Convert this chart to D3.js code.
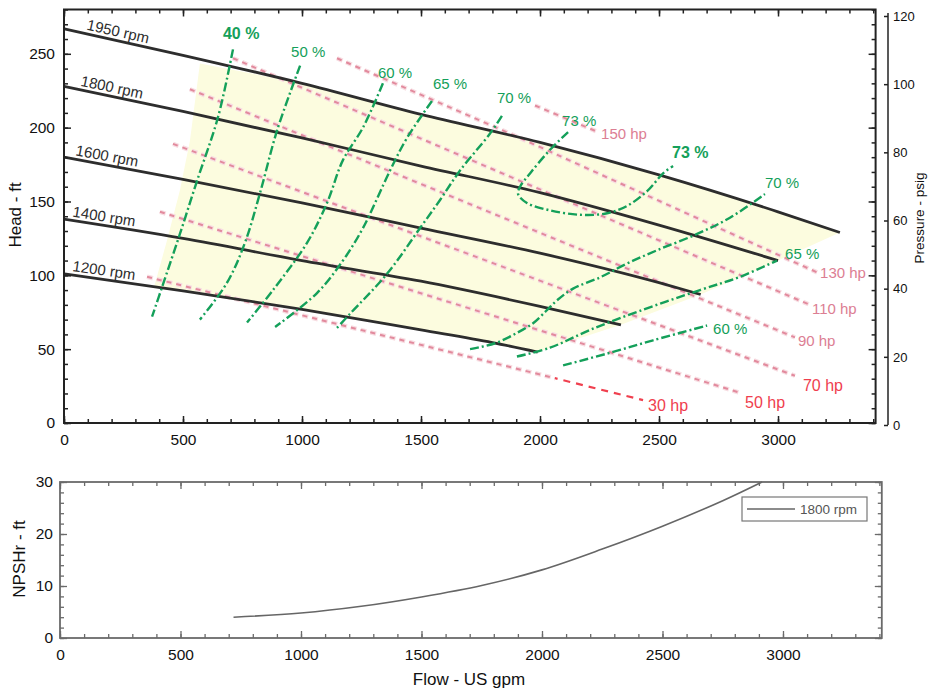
<!DOCTYPE html>
<html><head><meta charset="utf-8">
<script src="https://cdn.jsdelivr.net/npm/d3@7"></script>
<style>
body{margin:0;background:#fff;}
svg text{font-family:"Liberation Sans",Arial,Helvetica,sans-serif;}
</style></head><body>
<svg id="c" width="929" height="694"></svg>
<script>
// ---------------- DATA ----------------
const speedLabels = ["1950 rpm","1800 rpm","1600 rpm","1400 rpm","1200 rpm"];
const flow1950 = [0,500,1000,1500,2000,2500,3000,3260];
const head1950 = [267,249,230,209,190,168,143,129];
const flow1800 = [0,500,1000,1500,2000,2500,3000];
const head1800 = [228,211,193,174,156,134,110];
const flow1600 = [0,500,1000,1500,2000,2500,2675];
const head1600 = [180,165,149,132,115,95,87];
const flow1400 = [0,500,1000,1500,2000,2340];
const head1400 = [138,125,110,96,79,66.5];
const flow1200 = [0,500,1000,1500,1800,1990];
const head1200 = [101,89.5,77,63,54.5,48];

// efficiency iso-lines [flow, head]
const effLabels = ["40 %","50 %","60 %","65 %","70 %","73 %","73 %","70 %","65 %","60 %"];
const eff40 = [[710,253],[647,207],[559,164],[487,128],[412,92],[370,72]];
const eff50 = [[992,242],[895,198],[824,156],[760,122],[685,95],[571,70]];
const eff60 = [[1340,230],[1256,200],[1172,178],[1105,149],[1021,122],[878,90],[769,68]];
const eff65 = [[1546,218],[1441,193],[1370,171],[1256,132],[1172,110],[1063,88],[887,65]];
const eff70a = [[1840,208],[1790,196],[1664,171],[1580,151],[1496,132],[1357,101],[1202,74],[1139,63]];
const eff73 = [[2118,197],[2042,185],[1958,169],[1916,160],[1908,155],[1945,149],[2042,144],[2168,141],[2282,142],[2366,147],[2450,157],[2517,169],[2559,174]];
const eff70b = [[1706,50],[1811,54],[1903,61],[1971,67.6],[2029,76.4],[2071,83],[2139,91],[2252,98.6],[2366,108],[2492,117],[2660,128],[2798,139],[2945,155]];
const eff65b = [[1903,45],[2042,51],[2210,63],[2420,76],[2672,90],[2840,99],[2996,110]];
const eff60b = [[2097,39],[2282,47],[2475,56],[2702,66]];

// constant power lines [flow, head]
const hpLabels = ["150 hp","130 hp","110 hp","90 hp","70 hp","50 hp","30 hp"];
const hp150 = [[1979,215],[2244,197]];
const hp130 = [[1147,247],[1916,193],[3164,102]];
const hp110 = [[710,247],[3134,80]];
const hp90 = [[529,226],[3071,58]];
const hp70 = [[458,189],[3071,32]];
const hp50 = [[403,143],[2849,20]];
const hp30 = [[349,99],[2433,15.5]];
const hp30BrightFrom = 2063;

// preferred operating region outline [flow, head]
const regionFlows = [571,1000,1500,2000,2500,3000,3260,3000,2675,2340,1990,1500,1000,500,378,433,487,529,571];
const regionHeads = [243.5,230,209,190,168,143,129,110,87,66.5,48,63,77,89.5,92,123.7,157.6,191,243.5];

// NPSHr at 1800 rpm
const npshFlow = [720,1000,1250,1500,1750,2000,2250,2500,2750,2913];
const npshValue = [4.0,4.8,6.1,7.9,10.1,13.1,17.1,21.5,26.4,30];

// tick values
const flowTicks = [0,500,1000,1500,2000,2500,3000];
const headTicks = [0,50,100,150,200,250];
const psiTicks = [0,20,40,60,80,100,120];
const npshTicks = [0,10,20,30];

// ---------------- DRAW ----------------
const svg = d3.select("#c");
const FONT = '"Liberation Sans",Arial,Helvetica,sans-serif';
const xT = d3.scaleLinear().domain([0,3410]).range([64,875.6]);
const yT = d3.scaleLinear().domain([0,280]).range([423,9.5]);
const yP = d3.scaleLinear().domain([0,120]).range([425,16]);
const xB = d3.scaleLinear().domain([0,3410]).range([60,881.8]);
const yB = d3.scaleLinear().domain([0,30]).range([638,482]);

const zip = (a,b)=>a.map((v,i)=>[v,b[i]]);
const smooth = d3.line().x(d=>xT(d[0])).y(d=>yT(d[1])).curve(d3.curveMonotoneX);
const cr = d3.line().x(d=>xT(d[0])).y(d=>yT(d[1])).curve(d3.curveCatmullRom.alpha(0.5));
const straight = d3.line().x(d=>xT(d[0])).y(d=>yT(d[1]));

// yellow region
svg.append("path")
  .attr("d", straight(zip(regionFlows,regionHeads)))
  .attr("fill","#fcfcdf").attr("stroke","none");

// clip paths for the 30 hp line
const defs = svg.append("defs");
defs.append("clipPath").attr("id","head30").append("rect")
  .attr("x",0).attr("y",0).attr("width",xT(hp30BrightFrom)).attr("height",450);
defs.append("clipPath").attr("id","tail30").append("rect")
  .attr("x",xT(hp30BrightFrom)).attr("y",0).attr("width",400).attr("height",450);

// power lines
const hpSets = [hp150,hp130,hp110,hp90,hp70,hp50,hp30];
const hpLabelOff = [[3,7],[3,6],[2,9],[3,9],[8,15],[3,15],[5,11]];
const hpColors = ["#dc7e93","#dc7e93","#dc7e93","#dc7e93","#ef3e4e","#ef3e4e","#ef3e4e"];
const hpSizes = [15,15,15,15,16,16,16];
const gHp = svg.append("g");
hpSets.forEach((s,i)=>{
  const clip = i===6 ? "url(#head30)" : null;
  gHp.append("path").attr("d",straight(s)).attr("fill","none").attr("clip-path",clip)
    .attr("stroke","#f7dde2").attr("stroke-width",4.5).attr("stroke-dasharray","6,4");
  gHp.append("path").attr("d",straight(s)).attr("fill","none").attr("clip-path",clip)
    .attr("stroke","#e28a9d").attr("stroke-width",2).attr("stroke-dasharray","5,5");
  const e = s[s.length-1];
  gHp.append("text").attr("x",xT(e[0])+hpLabelOff[i][0]).attr("y",yT(e[1])+hpLabelOff[i][1])
    .attr("font-size",hpSizes[i]).attr("fill",hpColors[i]).text(hpLabels[i]);
});
// bright red tail of 30 hp line
svg.append("path").attr("d",straight(hp30)).attr("fill","none").attr("clip-path","url(#tail30)")
  .attr("stroke","#f0404f").attr("stroke-width",2.2).attr("stroke-dasharray","7,6");

// head curves
const heads = [zip(flow1950,head1950),zip(flow1800,head1800),zip(flow1600,head1600),zip(flow1400,head1400),zip(flow1200,head1200)];
const rpmDx = [22,16,11,8,8];
heads.forEach((c,i)=>{
  svg.append("path").attr("d",smooth(c)).attr("fill","none")
    .attr("stroke","#2d2d2d").attr("stroke-width",2.8);
  const x0 = xT(c[0][0]), y0 = yT(c[0][1]);
  const ang = Math.atan2(yT(c[1][1])-y0, xT(c[1][0])-x0)*180/Math.PI;
  const px = x0 + rpmDx[i];
  const py = y0 + (px-x0)*Math.tan(ang*Math.PI/180) - 4;
  svg.append("text").attr("transform",`translate(${px},${py}) rotate(${ang})`)
    .attr("font-size",15).attr("fill","#2d2d2d").text(speedLabels[i]);
});

// efficiency lines
const effSets = [eff40,eff50,eff60,eff65,eff70a,eff73,eff73,eff70b,eff65b,eff60b];
const effAnchorEnd = [false,false,false,false,false,false,true,true,true,true];
const effOff = [[-10,-10],[-9,-9],[-5,-5],[1,-12],[-5,-13],[-6,-6],[-1,-8],[0,-6],[8,-2],[6,8]];
const effBold = [true,false,false,false,false,false,true,false,false,false];
const gE = svg.append("g");
[eff40,eff50,eff60,eff65,eff70a,eff73,eff70b,eff65b,eff60b].forEach(s=>{
  gE.append("path").attr("d",cr(s)).attr("fill","none")
    .attr("stroke","#14a05a").attr("stroke-width",2.4).attr("stroke-dasharray","9,3,2,3");
});
effSets.forEach((s,i)=>{
  const p = effAnchorEnd[i] ? s[s.length-1] : s[0];
  gE.append("text").attr("x",xT(p[0])+effOff[i][0]).attr("y",yT(p[1])+effOff[i][1])
    .attr("font-size",effBold[i]?16:15).attr("font-weight",effBold[i]?"bold":"normal")
    .attr("fill","#14a05a").text(effLabels[i]);
});

// ---------- axes helpers ----------
function styleAxis(g,col,w,fs){
  g.select(".domain").remove();
  g.selectAll("line").attr("stroke",col).attr("stroke-width",w);
  g.selectAll("text").attr("font-size",fs).attr("fill","#111").style("font-family",FONT);
}
const minorFlow = d3.range(0,3401,100);

function frameTicks(xs,ys,yTicksMajor,yMinor,col,w){
  const [x0,x1]=xs.range(), [yb,yt]=ys.range();
  svg.append("g").attr("transform",`translate(0,${yb})`).call(d3.axisBottom(xs).tickValues(minorFlow).tickSize(-4).tickFormat("")).call(g=>styleAxis(g,col,w,0));
  svg.append("g").attr("transform",`translate(0,${yt})`).call(d3.axisTop(xs).tickValues(minorFlow).tickSize(-4).tickFormat("")).call(g=>styleAxis(g,col,w,0));
  svg.append("g").attr("transform",`translate(0,${yt})`).call(d3.axisTop(xs).tickValues(flowTicks).tickSize(-7).tickFormat("")).call(g=>styleAxis(g,col,w,0));
  svg.append("g").attr("transform",`translate(${x0},0)`).call(d3.axisLeft(ys).tickValues(yMinor).tickSize(-4).tickFormat("")).call(g=>styleAxis(g,col,w,0));
  svg.append("g").attr("transform",`translate(${x1},0)`).call(d3.axisRight(ys).tickValues(yMinor).tickSize(-4).tickFormat("")).call(g=>styleAxis(g,col,w,0));
  svg.append("g").attr("transform",`translate(${x1},0)`).call(d3.axisRight(ys).tickValues(yTicksMajor).tickSize(-7).tickFormat("")).call(g=>styleAxis(g,col,w,0));
  svg.append("rect").attr("x",x0).attr("y",yt).attr("width",x1-x0).attr("height",yb-yt)
    .attr("fill","none").attr("stroke",col).attr("stroke-width",w+0.5);
}
frameTicks(xT,yT,headTicks,d3.range(0,281,10),"#222",1.5);
svg.append("g").attr("transform","translate(0,423)")
  .call(d3.axisBottom(xT).tickValues(flowTicks).tickSize(-7).tickPadding(11).tickFormat(d3.format("d")))
  .call(g=>styleAxis(g,"#222",1.5,15.5));
svg.append("g").attr("transform","translate(64,0)")
  .call(d3.axisLeft(yT).tickValues(headTicks).tickSize(-7).tickPadding(9).tickFormat(d3.format("d")))
  .call(g=>styleAxis(g,"#222",1.5,15.5));

// pressure axis
svg.append("line").attr("x1",888).attr("x2",888).attr("y1",13).attr("y2",yP(0)).attr("stroke","#222").attr("stroke-width",1.5);
svg.append("g").attr("transform","translate(888,0)")
  .call(d3.axisRight(yP).tickValues(psiTicks).tickSize(-4).tickPadding(5).tickFormat(d3.format("d")))
  .call(g=>styleAxis(g,"#222",1.5,13));

// bottom chart
frameTicks(xB,yB,npshTicks,d3.range(0,31,2),"#6a6a6a",1.3);
svg.append("g").attr("transform","translate(0,638)")
  .call(d3.axisBottom(xB).tickValues(flowTicks).tickSize(-7).tickPadding(11).tickFormat(d3.format("d")))
  .call(g=>styleAxis(g,"#6a6a6a",1.3,15.5));
svg.append("g").attr("transform","translate(60,0)")
  .call(d3.axisLeft(yB).tickValues(npshTicks).tickSize(-7).tickPadding(7).tickFormat(d3.format("d")))
  .call(g=>styleAxis(g,"#6a6a6a",1.3,15.5));

svg.append("path").attr("d",d3.line().x(d=>xB(d[0])).y(d=>yB(d[1])).curve(d3.curveCatmullRom.alpha(0.5))(zip(npshFlow,npshValue)))
  .attr("fill","none").attr("stroke","#666").attr("stroke-width",1.6);

// legend
const lg = svg.append("g");
lg.append("rect").attr("x",742).attr("y",497).attr("width",125).attr("height",24)
  .attr("fill","#fff").attr("stroke","#777").attr("stroke-width",1.2);
lg.append("line").attr("x1",747).attr("x2",795).attr("y1",509).attr("y2",509).attr("stroke","#666").attr("stroke-width",1.6);
lg.append("text").attr("x",800).attr("y",514).attr("font-size",13.5).attr("fill","#555").text("1800 rpm");

// axis titles
svg.append("text").attr("transform","translate(21,215) rotate(-90)").attr("text-anchor","middle")
  .attr("font-size",17).attr("fill","#111").text("Head - ft");
svg.append("text").attr("transform","translate(25,559) rotate(-90)").attr("text-anchor","middle")
  .attr("font-size",17).attr("fill","#111").text("NPSHr - ft");
svg.append("text").attr("transform","translate(924,218) rotate(-90)").attr("text-anchor","middle")
  .attr("font-size",13.5).attr("fill","#111").text("Pressure - psig");
svg.append("text").attr("x",469).attr("y",685).attr("text-anchor","middle")
  .attr("font-size",17).attr("fill","#111").text("Flow - US gpm");
</script>
</body></html>
